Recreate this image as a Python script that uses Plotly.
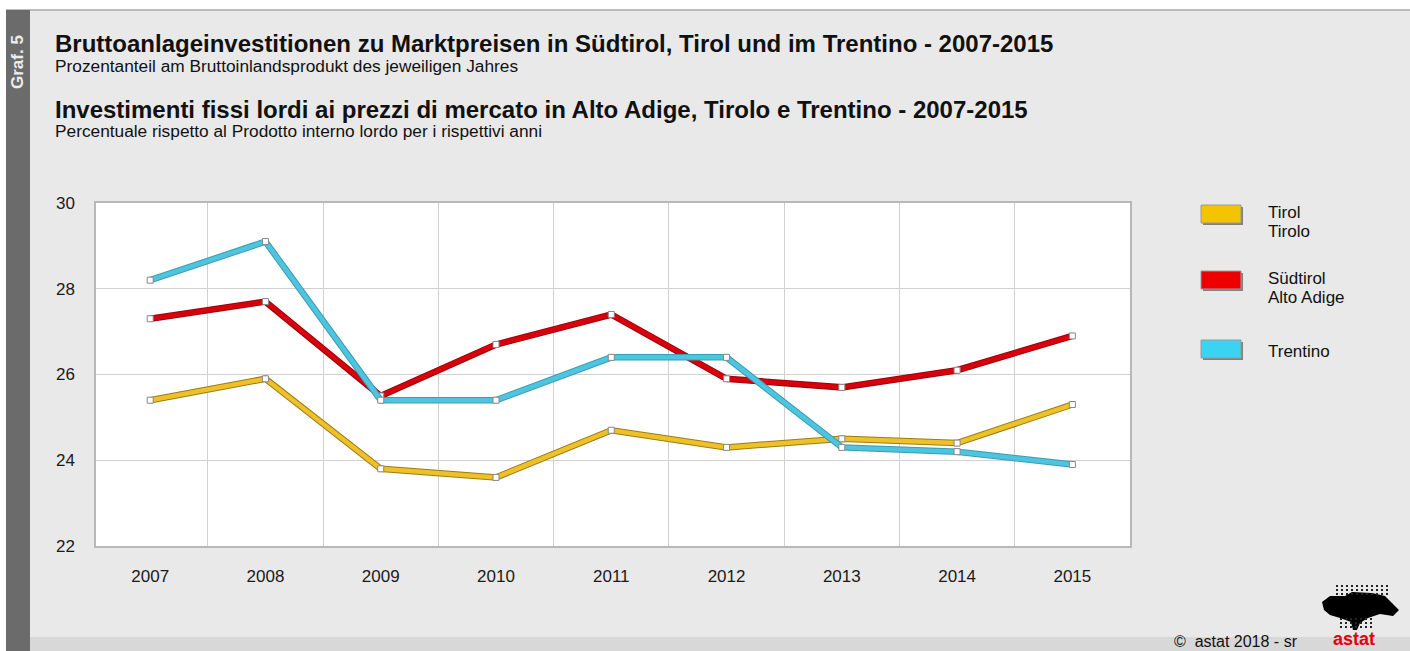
import plotly.graph_objects as go

years = [2007, 2008, 2009, 2010, 2011, 2012, 2013, 2014, 2015]
tirol = [25.4, 25.9, 23.8, 23.6, 24.7, 24.3, 24.5, 24.4, 25.3]
suedtirol = [27.3, 27.7, 25.5, 26.7, 27.4, 25.9, 25.7, 26.1, 26.9]
trentino = [28.2, 29.1, 25.4, 25.4, 26.4, 26.4, 24.3, 24.2, 23.9]
y_ticks = [22, 24, 26, 28, 30]

series = [
    ("Südtirol", suedtirol, "#d9000d", "#9a0008"),
    ("Tirol", tirol, "#eec12a", "#9c7c12"),
    ("Trentino", trentino, "#4fc4df", "#3a9db5"),
]

FONT = "Liberation Sans, Arial, sans-serif"

fig = go.Figure()
for name, vals, col, edge in series:
    fig.add_trace(go.Scatter(x=years, y=vals, mode="lines",
                             line=dict(color=edge, width=6.5), hoverinfo="skip", showlegend=False))
    fig.add_trace(go.Scatter(x=years, y=vals, mode="lines+markers", name=name,
                             line=dict(color=col, width=4.5),
                             marker=dict(symbol="square", size=6, color="white",
                                         line=dict(color="#888888", width=1)),
                             showlegend=False))

W, H = 1410, 651
L, R, T, B = 96, 280, 203, 105

fig.update_layout(
    width=W, height=H,
    margin=dict(l=L, r=R, t=T, b=B),
    paper_bgcolor="#e9e9e9", plot_bgcolor="white",
    font=dict(family=FONT, color="#1a1a1a"),
    xaxis=dict(range=[2006.53, 2015.5], tickvals=years, ticktext=[str(y) for y in years],
               showgrid=False, ticks="", tickfont=dict(size=17),
               minor=dict(tick0=2006.5, dtick=1, showgrid=True, gridcolor="#d0d0d0", gridwidth=1),
               showline=True, linecolor="#b8b8b8", linewidth=1.5, mirror=True, zeroline=False,
               ticklabelstandoff=14),
    yaxis=dict(range=[22, 30], tickvals=y_ticks, showgrid=True, gridcolor="#d0d0d0",
               tickfont=dict(size=17), ticks="", ticklabelstandoff=16,
               showline=True, linecolor="#b8b8b8", linewidth=1.5, mirror=True, zeroline=False),
)


def px(x):
    return (x - L) / (W - L - R)


def py(y):
    return (H - B - y) / (H - B - T)


shapes = []
shapes.append(dict(type="rect", xref="paper", yref="paper", x0=px(0), x1=px(W), y0=py(10), y1=py(0),
                   fillcolor="white", line=dict(width=0), layer="below"))
shapes.append(dict(type="line", xref="paper", yref="paper", x0=px(6), x1=px(W), y0=py(10), y1=py(10),
                   line=dict(color="#a8a8a8", width=1.5)))
shapes.append(dict(type="rect", xref="paper", yref="paper", x0=px(0), x1=px(6), y0=py(H), y1=py(10),
                   fillcolor="white", line=dict(width=0)))
shapes.append(dict(type="rect", xref="paper", yref="paper", x0=px(6), x1=px(30), y0=py(H), y1=py(10),
                   fillcolor="#6b6b6b", line=dict(width=0)))
shapes.append(dict(type="rect", xref="paper", yref="paper", x0=px(30), x1=px(W), y0=py(H), y1=py(637),
                   fillcolor="#d8d8d8", line=dict(width=0), layer="below"))

# legend boxes
leg = [("#f5c400", 205), ("#ee0000", 271), ("#38d4f2", 340)]
for col, y in leg:
    shapes.append(dict(type="rect", xref="paper", yref="paper", x0=px(1203), x1=px(1243),
                       y0=py(y + 20), y1=py(y + 2), fillcolor="#808080", line=dict(width=0)))
    shapes.append(dict(type="rect", xref="paper", yref="paper", x0=px(1201), x1=px(1241),
                       y0=py(y + 18), y1=py(y), fillcolor=col, line=dict(color="#9a9a9a", width=1)))

# logo (approximation of the astat map mark)
logo_pts = [(1322, 602), (1330, 596), (1345, 596), (1352, 592), (1372, 593), (1385, 596),
            (1392, 603), (1399, 610), (1393, 616), (1380, 614), (1368, 618), (1360, 623),
            (1357, 630), (1353, 630), (1351, 622), (1340, 618), (1330, 615), (1324, 610)]
path = "M " + " L ".join(f"{px(x)},{py(y)}" for x, y in logo_pts) + " Z"
shapes.append(dict(type="path", xref="paper", yref="paper", path=path,
                   fillcolor="black", line=dict(width=0)))
for gx in range(1336, 1390, 5):
    for gy in range(585, 594, 4):
        shapes.append(dict(type="rect", xref="paper", yref="paper", x0=px(gx), x1=px(gx + 2),
                           y0=py(gy + 2), y1=py(gy), fillcolor="#222222", line=dict(width=0)))
for gx in range(1340, 1372, 5):
    for gy in range(618, 630, 4):
        shapes.append(dict(type="rect", xref="paper", yref="paper", x0=px(gx), x1=px(gx + 2),
                           y0=py(gy + 2), y1=py(gy), fillcolor="#222222", line=dict(width=0)))
fig.update_layout(shapes=shapes)

ann = []


def text(x, y, s, size, bold=False, color="#111111", xanchor="left"):
    ann.append(dict(xref="paper", yref="paper", x=px(x), y=py(y), text=f"<b>{s}</b>" if bold else s,
                    showarrow=False, xanchor=xanchor, yanchor="middle",
                    font=dict(size=size, color=color, family=FONT)))


text(53, 44, "Bruttoanlageinvestitionen zu Marktpreisen in Südtirol, Tirol und im Trentino - 2007-2015", 24, True)
text(53, 66, "Prozentanteil am Bruttoinlandsprodukt des jeweiligen Jahres", 17.3)
text(53, 109, "Investimenti fissi lordi ai prezzi di mercato in Alto Adige, Tirolo e Trentino - 2007-2015", 24, True)
text(53, 131, "Percentuale rispetto al Prodotto interno lordo per i rispettivi anni", 17.3)
ann.append(dict(xref="paper", yref="paper", x=px(18), y=py(62), text="<b>Graf. 5</b>", textangle=-90,
                showarrow=False, xanchor="center", yanchor="middle",
                font=dict(size=17, color="#ececec", family=FONT)))
text(1266, 212, "Tirol", 17)
text(1266, 231, "Tirolo", 17)
text(1266, 278, "Südtirol", 17)
text(1266, 297, "Alto Adige", 17)
text(1266, 351, "Trentino", 17)
text(1172, 641, "©  astat 2018 - sr", 16)
text(1331, 639, "astat", 18, bold=True, color="#e3000f")
fig.update_layout(annotations=ann)

fig.write_html("out.html", post_script="document.body.style.margin='0';",
               config={"displayModeBar": False})
